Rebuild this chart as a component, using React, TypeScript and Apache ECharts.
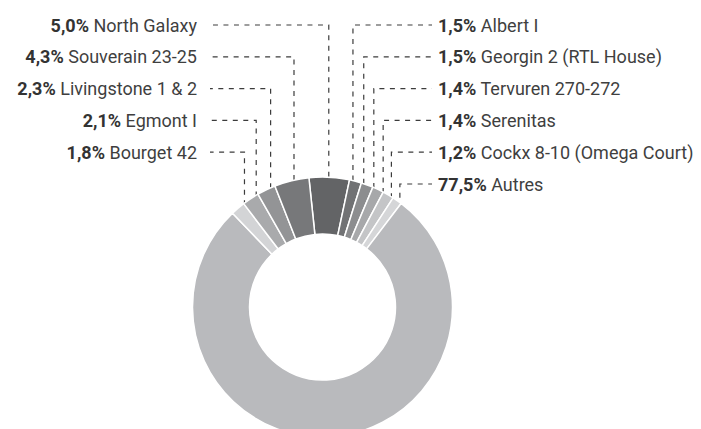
import React, { useEffect, useRef } from "react";
import * as echarts from "echarts";

// Slices in clockwise order, starting just left of 12 o'clock
const NAMES = [
  "North Galaxy",
  "Albert I",
  "Georgin 2 (RTL House)",
  "Tervuren 270-272",
  "Serenitas",
  "Cockx 8-10 (Omega Court)",
  "Autres",
  "Bourget 42",
  "Egmont I",
  "Livingstone 1 & 2",
  "Souverain 23-25",
];
const VALUES = [5.0, 1.5, 1.5, 1.4, 1.4, 1.2, 77.5, 1.8, 2.1, 2.3, 4.3];
const COLORS = [
  "#636466",
  "#717274",
  "#8c8d8f",
  "#a7a8aa",
  "#c4c5c7",
  "#d5d6d8",
  "#b9babd",
  "#d3d4d6",
  "#a9aaac",
  "#939496",
  "#77787a",
];
// which column each slice's label goes into, and its row
const LEFT_ORDER = ["North Galaxy", "Souverain 23-25", "Livingstone 1 & 2", "Egmont I", "Bourget 42"];
const RIGHT_ORDER = [
  "Albert I",
  "Georgin 2 (RTL House)",
  "Tervuren 270-272",
  "Serenitas",
  "Cockx 8-10 (Omega Court)",
  "Autres",
];

const W = 701;
const H = 429;
const CX = 322.5;
const CY = 307;
const R_IN = 73;
const R_OUT = 130;
const START = 96;
const ROW_Y0 = 25;
const ROW_GAP = 31.8;
const LEFT_X = 197;
const RIGHT_X = 438;
const ANCHOR_R = 120;
const FS = 18;

function fmt(v: number) {
  return v.toFixed(1).replace(".", ",") + "%";
}

export default function App() {
  const ref = useRef<HTMLDivElement>(null);
  useEffect(() => {
    document.body.style.margin = "0";
    if (!ref.current) return;
    const chart = echarts.init(ref.current, undefined, { renderer: "svg" });
    const total = VALUES.reduce((a, b) => a + b, 0);
    const cum: number[] = [];
    let acc = 0;
    VALUES.forEach((v) => {
      cum.push(acc);
      acc += v;
    });

    const anchor = (i: number) => {
      const a0 = START - (cum[i] / total) * 360;
      const span = (VALUES[i] / total) * 360;
      let ang: number;
      let r = ANCHOR_R;
      if (span > 180) {
        ang = a0 - 16.5;
        r = 96;
      } else {
        ang = a0 - span / 2;
      }
      const rad = (ang * Math.PI) / 180;
      return [CX + r * Math.cos(rad), CY - r * Math.sin(rad)];
    };

    chart.setOption({
      animation: false,
      series: [
        {
          type: "pie",
          center: [CX, CY],
          radius: [R_IN, R_OUT],
          startAngle: START,
          clockwise: true,
          avoidLabelOverlap: false,
          silent: true,
          itemStyle: { borderColor: "#ffffff", borderWidth: 1.5 },
          emphasis: { disabled: true },
          label: {
            show: true,
            position: "outside",
            fontFamily: "Roboto",
            fontSize: FS,
            formatter: (p: any) => `{b|${fmt(p.value)}}{n| ${p.name}}`,
            rich: {
              b: { fontFamily: "Roboto", fontSize: FS, fontWeight: "bold", color: "#333333" },
              n: { fontFamily: "Roboto", fontSize: FS, color: "#3f3f3f" },
            },
          },
          labelLine: {
            show: true,
            smooth: false,
            lineStyle: { color: "#3c3c3c", width: 1.2, type: [5, 5.5] },
          },
          labelLayout: (params: any) => {
            const i = params.dataIndex;
            const name = NAMES[i];
            const li = LEFT_ORDER.indexOf(name);
            const isLeft = li >= 0;
            const row = isLeft ? li : RIGHT_ORDER.indexOf(name);
            const y = ROW_Y0 + row * ROW_GAP;
            const [ax, ay] = anchor(i);
            const xEnd = isLeft ? LEFT_X + 13 : RIGHT_X - 6;
            return {
              x: isLeft ? LEFT_X : RIGHT_X,
              y,
              align: isLeft ? "right" : "left",
              verticalAlign: "middle",
              labelLinePoints: [
                [ax, ay],
                [ax, y],
                [xEnd, y],
              ],
            };
          },
          data: NAMES.map((n, i) => ({
            name: n,
            value: VALUES[i],
            itemStyle: { color: COLORS[i] },
          })),
        },
      ],
    });
    return () => chart.dispose();
  }, []);
  return <div ref={ref} style={{ width: W, height: H }} />;
}
